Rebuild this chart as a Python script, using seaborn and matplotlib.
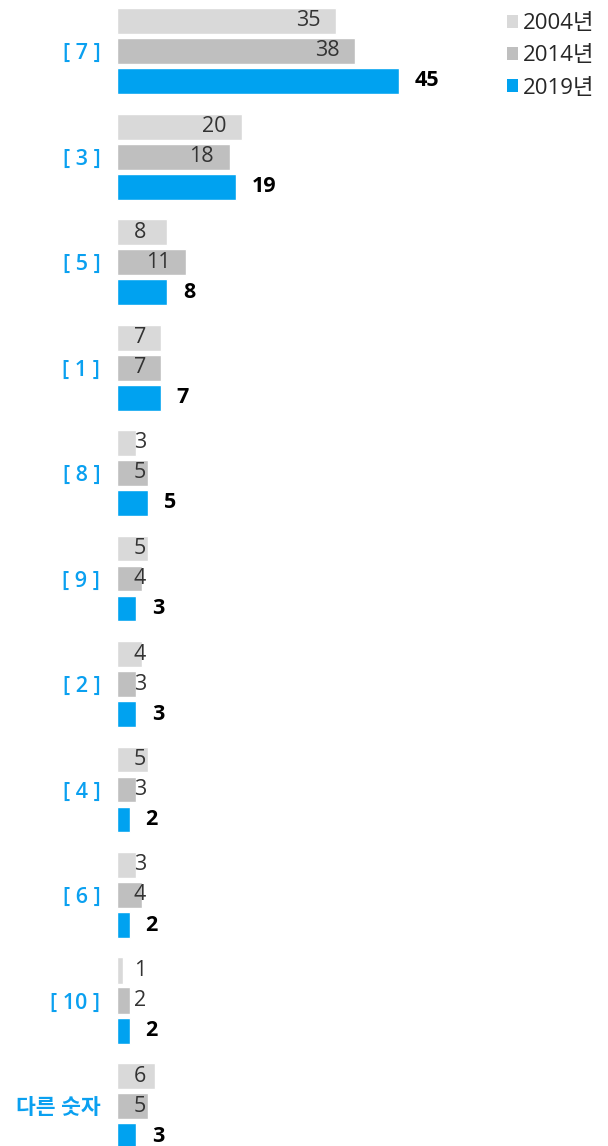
import matplotlib
matplotlib.use("Agg")
import matplotlib.pyplot as plt
from matplotlib.patches import Patch
import seaborn as sns
import pandas as pd

# data
categories = ["[ 7 ]", "[ 3 ]", "[ 5 ]", "[ 1 ]", "[ 8 ]", "[ 9 ]", "[ 2 ]", "[ 4 ]", "[ 6 ]", "[ 10 ]", "다른 숫자"]
years = ["2004년", "2014년", "2019년"]
v2004 = [35, 20, 8, 7, 3, 5, 4, 5, 3, 1, 6]
v2014 = [38, 18, 11, 7, 5, 4, 3, 3, 4, 2, 5]
v2019 = [45, 19, 8, 7, 5, 3, 3, 2, 2, 2, 3]
colors = ["#D9D9D9", "#BFBFBF", "#00A2F0"]
blue = "#0AA0F0"

rows = []
for yr, vals in zip(years, [v2004, v2014, v2019]):
    for c, v in zip(categories, vals):
        rows.append({"cat": c, "year": yr, "value": v})
df = pd.DataFrame(rows)

sns.set_style("white")
plt.rcParams["font.family"] = ["Open Sans", "Noto Sans CJK KR", "DejaVu Sans"]

W, H = 608, 1146
fig = plt.figure(figsize=(W / 100, H / 100), dpi=100)
ax_left = 117
ax = fig.add_axes([ax_left / W, 0, 1 - ax_left / W, 1])

pitch = 105.5          # px between groups
slot = 30 / pitch      # one bar slot in data units
sns.barplot(data=df, y="cat", x="value", hue="year", orient="h",
            palette=colors, width=3 * slot, gap=4 / 30, ax=ax,
            legend=False, saturation=1)

px_per_unit = 282 / 45
ax.set_xlim(0, (W - ax_left) / px_per_unit)
top = -1.5 * slot + 2 / pitch - 8 / pitch
ax.set_ylim(top + H / pitch, top)

fs = 15.5
for j, vals in enumerate([v2004, v2014, v2019]):
    for i, v in enumerate(vals):
        y = i + (j - 1) * slot
        if j < 2:
            x = max(v - 28 / px_per_unit, 23 / px_per_unit)
            ax.text(x, y, str(v), ha="center", va="center", fontsize=fs, color="#333333")
        else:
            ax.text(v + 16 / px_per_unit, y, str(v), ha="left", va="center",
                    fontsize=fs, color="black", fontweight="bold")

ax.set_xlabel("")
ax.set_ylabel("")
ax.set_xticks([])
ax.tick_params(axis="y", length=0, pad=12)
for lab in ax.get_yticklabels():
    lab.set_color(blue)
    lab.set_fontsize(fs)
    lab.set_fontweight("semibold")
sns.despine(ax=ax, left=True, bottom=True)

handles = [Patch(facecolor=c, edgecolor="none") for c in colors]
fig.legend(handles, years, loc="upper right", bbox_to_anchor=(1.0, 1.0),
           frameon=False, fontsize=fs + 0.5, handlelength=0.5, handleheight=0.5,
           handletextpad=0.25, labelspacing=0.5, borderaxespad=0.2)

fig.savefig("out.png", dpi=100)
